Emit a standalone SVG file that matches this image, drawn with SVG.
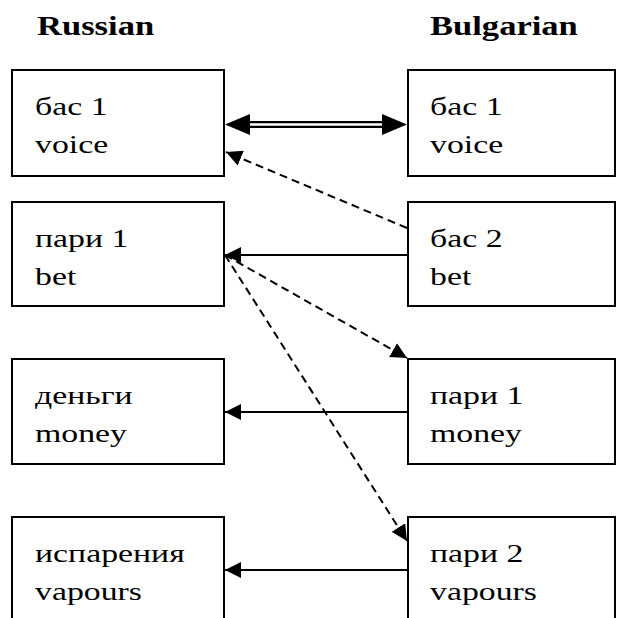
<svg xmlns="http://www.w3.org/2000/svg" width="618" height="618" viewBox="0 0 618 618">
<style>
.box{fill:#fff;stroke:#000;stroke-width:2}
.t{font-family:"Liberation Serif","Times New Roman",serif;font-size:26px;fill:#000}
.h{font-family:"Liberation Serif","Times New Roman",serif;font-size:27px;font-weight:bold;fill:#000}
.ln{stroke:#000;stroke-width:2;fill:none}
.dash{stroke:#000;stroke-width:2;fill:none;stroke-dasharray:8,5}
</style>
<defs>
<marker id="ah" markerUnits="userSpaceOnUse" markerWidth="17" markerHeight="16" refX="16" refY="8" orient="auto">
<path d="M0,0 L16,8 L0,16 z" fill="#000"/>
</marker>
</defs>
<rect width="618" height="618" fill="#fff"/>
<text class="h" transform="translate(37,35) scale(1.28,1)">Russian</text>
<text class="h" transform="translate(430,35) scale(1.28,1)">Bulgarian</text>
<g id="ru-bas1"><rect class="box" x="12" y="70" width="212" height="106"/>
<text class="t" transform="translate(35,115) scale(1.3,1)">бас 1</text>
<text class="t" transform="translate(35,153) scale(1.3,1)">voice</text></g>
<g id="ru-pari1"><rect class="box" x="12" y="202" width="212" height="104"/>
<text class="t" transform="translate(35,247) scale(1.3,1)">пари 1</text>
<text class="t" transform="translate(35,285) scale(1.3,1)">bet</text></g>
<g id="ru-dengi"><rect class="box" x="12" y="359" width="212" height="105"/>
<text class="t" transform="translate(35,404) scale(1.3,1)">деньги</text>
<text class="t" transform="translate(35,442) scale(1.3,1)">money</text></g>
<g id="ru-isp"><rect class="box" x="12" y="517" width="212" height="110"/>
<text class="t" transform="translate(35,562) scale(1.3,1)">испарения</text>
<text class="t" transform="translate(35,600) scale(1.3,1)">vapours</text></g>
<g id="bg-bas1"><rect class="box" x="408" y="70" width="207" height="106"/>
<text class="t" transform="translate(430,115) scale(1.3,1)">бас 1</text>
<text class="t" transform="translate(430,153) scale(1.3,1)">voice</text></g>
<g id="bg-bas2"><rect class="box" x="408" y="202" width="207" height="104"/>
<text class="t" transform="translate(430,247) scale(1.3,1)">бас 2</text>
<text class="t" transform="translate(430,285) scale(1.3,1)">bet</text></g>
<g id="bg-pari1"><rect class="box" x="408" y="359" width="207" height="105"/>
<text class="t" transform="translate(430,404) scale(1.3,1)">пари 1</text>
<text class="t" transform="translate(430,442) scale(1.3,1)">money</text></g>
<g id="bg-pari2"><rect class="box" x="408" y="517" width="207" height="110"/>
<text class="t" transform="translate(430,562) scale(1.3,1)">пари 2</text>
<text class="t" transform="translate(430,600) scale(1.3,1)">vapours</text></g>
<g id="connectors">
<line x1="245" y1="124.5" x2="388" y2="124.5" stroke="#000" stroke-width="7"/>
<line x1="245" y1="124.5" x2="388" y2="124.5" stroke="#fff" stroke-width="2.5"/>
<polygon points="225,124.5 250,114 250,135" fill="#000"/>
<polygon points="407,124.5 382,114 382,135" fill="#000"/>
<line class="dash" x1="407" y1="228" x2="226" y2="152" marker-end="url(#ah)"/>
<line class="ln" x1="407" y1="255" x2="225" y2="255" marker-end="url(#ah)"/>
<line class="dash" x1="225" y1="255" x2="407" y2="358" marker-end="url(#ah)"/>
<line class="dash" x1="225" y1="255" x2="407" y2="541" marker-end="url(#ah)"/>
<line class="ln" x1="407" y1="412" x2="225" y2="412" marker-end="url(#ah)"/>
<line class="ln" x1="407" y1="570" x2="225" y2="570" marker-end="url(#ah)"/>
</g>
</svg>
